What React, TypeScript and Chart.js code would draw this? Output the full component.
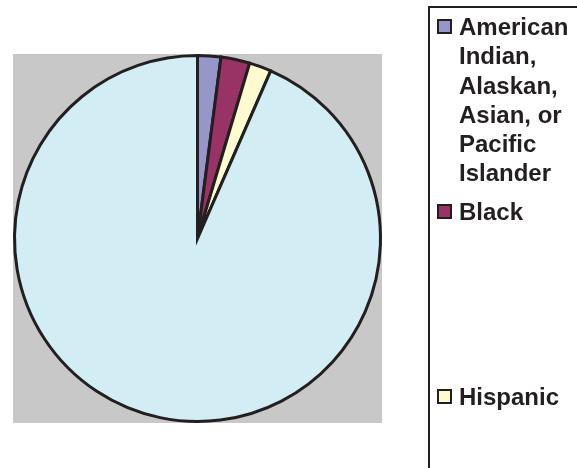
import React, { useEffect, useRef } from "react";
import { Chart, registerables } from "chart.js";

Chart.register(...registerables);

const categories = [
  "American Indian, Alaskan, Asian, or Pacific Islander",
  "Black",
  "Hispanic",
  "White",
];
const shares = [2.05, 2.55, 1.95, 93.45];
const sliceColors = ["#9696C8", "#993366", "#FFFBD0", "#D3EDF4"];

const plotBg = {
  id: "plotBg",
  beforeDraw(chart: any) {
    const { ctx, chartArea } = chart;
    ctx.save();
    ctx.fillStyle = "#C8C8C8";
    ctx.fillRect(chartArea.left, chartArea.top, chartArea.width, chartArea.height);
    ctx.restore();
  },
};

export default function App() {
  const ref = useRef<HTMLCanvasElement | null>(null);
  useEffect(() => {
    if (!ref.current) return;
    const chart = new Chart(ref.current, {
      type: "pie",
      data: {
        labels: categories,
        datasets: [
          {
            data: shares,
            backgroundColor: sliceColors,
            borderColor: "#231F20",
            borderWidth: 3,
            borderJoinStyle: "miter",
          },
        ],
      },
      options: {
        responsive: false,
        animation: false,
        layout: { padding: { left: 13, top: 54, right: 195, bottom: 45 } },
        plugins: { legend: { display: false }, tooltip: { enabled: false } },
      },
      plugins: [plotBg],
    });
    return () => chart.destroy();
  }, []);

  return (
    <div
      style={{
        position: "fixed",
        left: 0,
        top: 0,
        width: 577,
        height: 468,
        overflow: "hidden",
        background: "#fff",
      }}
    >
      <canvas ref={ref} width={577} height={468} style={{ position: "absolute", left: 0, top: 0, width: 577, height: 468 }} />
      <div
        style={{
          position: "absolute",
          left: 428,
          top: 6,
          width: 220,
          height: 800,
          border: "2px solid #231F20",
          boxSizing: "border-box",
        }}
      />
      {categories.map((c, i) => (
        <div
          key={c}
          style={{
            position: "absolute",
            left: 437,
            top: 12 + i * 185,
            display: "flex",
            alignItems: "flex-start",
          }}
        >
          <div
            style={{
              width: 15,
              height: 15,
              marginTop: 7,
              boxSizing: "border-box",
              border: "2px solid #231F20",
              background: sliceColors[i],
              flex: "none",
            }}
          />
          <div
            style={{
              marginLeft: 7,
              width: 116,
              fontFamily: "'Liberation Sans', Arial, sans-serif",
              fontWeight: "bold",
              fontSize: 24,
              lineHeight: "29.3px",
              color: "#231F20",
            }}
          >
            {c}
          </div>
        </div>
      ))}
    </div>
  );
}
